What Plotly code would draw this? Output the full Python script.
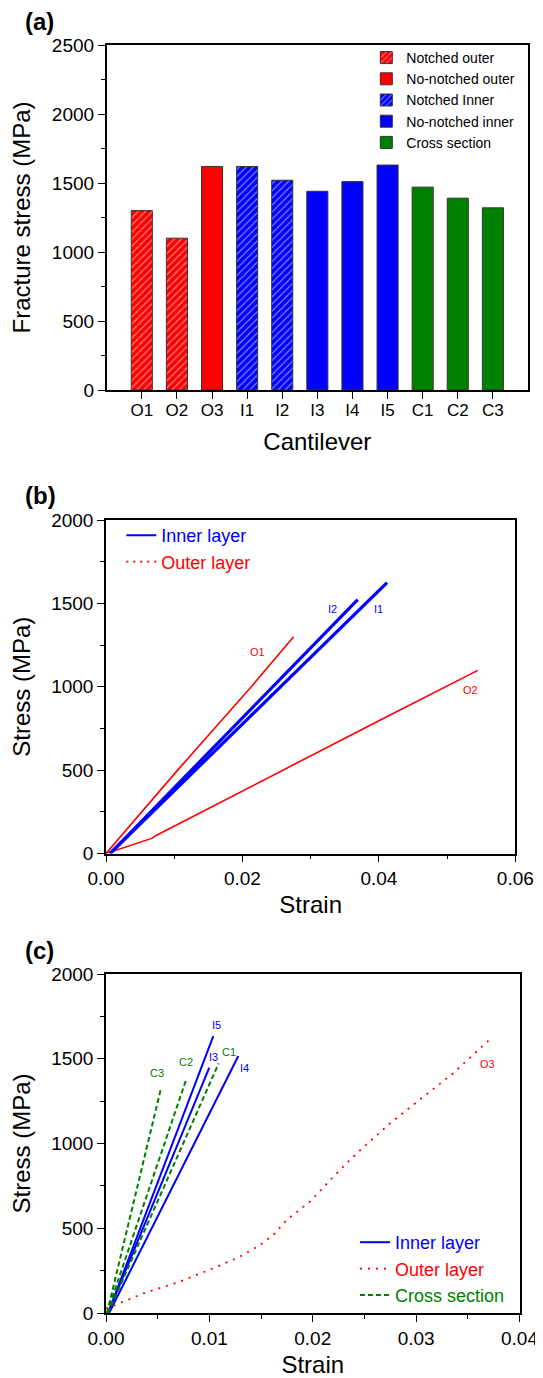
import plotly.graph_objects as go

# ---------------- Panel (a) data ----------------
categories = ["O1", "O2", "O3", "I1", "I2", "I3", "I4", "I5", "C1", "C2", "C3"]
fracture_stress = [1300, 1100, 1620, 1620, 1520, 1440, 1510, 1630, 1470, 1390, 1320]
bar_group = ["Notched outer", "Notched outer", "No-notched outer",
             "Notched Inner", "Notched Inner",
             "No-notched inner", "No-notched inner", "No-notched inner",
             "Cross section", "Cross section", "Cross section"]
group_names = ["Notched outer", "No-notched outer", "Notched Inner",
               "No-notched inner", "Cross section"]
group_colors = ["#FF0000", "#FF0000", "#0000FF", "#0000FF", "#008000"]
group_hatched = [True, False, True, False, False]

# ---------------- Panel (b) data ----------------
O1_strain = [0.0, 0.0105, 0.0213, 0.0262, 0.0275]
O1_stress = [0, 500, 1000, 1240, 1300]
O2_strain = [0.0, 0.0035, 0.0068, 0.0072, 0.0200, 0.0300, 0.0400, 0.0545]
O2_stress = [0, 45, 92, 105, 376, 586, 796, 1098]
I1_strain = [0.0006, 0.0131, 0.0256, 0.0412]
I1_stress = [0, 500, 1000, 1624]
I2_strain = [0.0006, 0.0125, 0.0244, 0.0369]
I2_stress = [0, 500, 1000, 1522]

# ---------------- Panel (c) data ----------------
I3_strain = [0.0002, 0.00999]
I3_stress = [0, 1447]
I4_strain = [0.0003, 0.0128]
I4_stress = [0, 1516]
I5_strain = [0.0002, 0.01038]
I5_stress = [0, 1634]
C1_strain = [0.0002, 0.0109]
C1_stress = [0, 1473]
C2_strain = [0.0001, 0.00771]
C2_stress = [0, 1369]
C3_strain = [0.0001, 0.00532]
C3_stress = [0, 1326]
O3_strain = [0.0, 0.00039, 0.00361, 0.00716, 0.01038, 0.01296, 0.0149, 0.01618,
             0.01748, 0.01973, 0.02199, 0.02425, 0.02747, 0.03037, 0.03357, 0.03714]
O3_stress = [28, 34, 116, 185, 264, 332, 401, 460, 549, 657, 804, 942, 1119, 1257, 1414, 1615]

FONT = "Arial, Liberation Sans, sans-serif"
# the page body adds an 8 px margin, so the figure is drawn 8 px smaller
OFF = 8
W, H = 543 - OFF, 1378 - OFF


def px_x(p):
    return (p - OFF) / W


def px_y(p):
    return 1 - (p - OFF) / H


fig = go.Figure()

# ---- (a) bars ----
for name, col, hatch in zip(group_names, group_colors, group_hatched):
    xs = [c for c, g in zip(categories, bar_group) if g == name]
    ys = [v for v, g in zip(fracture_stress, bar_group) if g == name]
    pattern = (dict(shape="/", fgcolor="white", fillmode="overlay", size=5, solidity=0.25)
               if hatch else dict(shape=""))
    fig.add_trace(go.Bar(
        x=xs, y=ys, name=name, width=0.6,
        marker=dict(color=col, line=dict(color="#333333", width=1), pattern=pattern),
        xaxis="x", yaxis="y", legend="legend",
    ))

# ---- (b) curves ----
for xs, ys in [(O1_strain, O1_stress), (O2_strain, O2_stress)]:
    fig.add_trace(go.Scatter(x=xs, y=ys, mode="lines", line=dict(color="#FF0000", width=1.6),
                             showlegend=False, xaxis="x2", yaxis="y2"))
for xs, ys in [(I1_strain, I1_stress), (I2_strain, I2_stress)]:
    fig.add_trace(go.Scatter(x=xs, y=ys, mode="lines", line=dict(color="#0000FF", width=3.2),
                             showlegend=False, xaxis="x2", yaxis="y2"))
fig.add_trace(go.Scatter(x=[None], y=[None], mode="lines", line=dict(color="#0000FF", width=2),
                         name="<span style='color:#0000FF'>Inner layer</span>",
                         xaxis="x2", yaxis="y2", legend="legend2"))
fig.add_trace(go.Scatter(x=[None], y=[None], mode="lines",
                         line=dict(color="#FF0000", width=1.6, dash="2px,5px"),
                         name="<span style='color:#FF0000'>Outer layer</span>",
                         xaxis="x2", yaxis="y2", legend="legend2"))

# ---- (c) curves ----
inner_c = [(I5_strain, I5_stress), (I3_strain, I3_stress), (I4_strain, I4_stress)]
for i, (xs, ys) in enumerate(inner_c):
    fig.add_trace(go.Scatter(x=xs, y=ys, mode="lines", line=dict(color="#0000FF", width=2),
                             name="<span style='color:#0000FF'>Inner layer</span>",
                             showlegend=(i == 0), legendrank=1,
                             xaxis="x3", yaxis="y3", legend="legend3"))
fig.add_trace(go.Scatter(x=O3_strain, y=O3_stress, mode="lines",
                         line=dict(color="#FF0000", width=1.8, dash="2px,6px"),
                         name="<span style='color:#FF0000'>Outer layer</span>", legendrank=2,
                         xaxis="x3", yaxis="y3", legend="legend3"))
cross_c = [(C1_strain, C1_stress), (C2_strain, C2_stress), (C3_strain, C3_stress)]
for i, (xs, ys) in enumerate(cross_c):
    fig.add_trace(go.Scatter(x=xs, y=ys, mode="lines",
                             line=dict(color="#008000", width=2, dash="5px,3px"),
                             name="<span style='color:#008000'>Cross section</span>",
                             showlegend=(i == 0), legendrank=3,
                             xaxis="x3", yaxis="y3", legend="legend3"))

# ---- axes ----
axis_common = dict(showline=True, linecolor="black", linewidth=1.5, mirror=True,
                   ticks="outside", ticklen=7, tickwidth=1.3, tickcolor="black",
                   showgrid=False, zeroline=False,
                   tickfont=dict(family=FONT, size=19, color="black"),
                   automargin=False)
minor_y = dict(ticks="outside", ticklen=4, tickcolor="black", dtick=250, tick0=0)
title_font = dict(family=FONT, size=24, color="black")

fig.update_layout(
    width=W, height=H,
    margin=dict(l=0, r=0, t=0, b=0),
    paper_bgcolor="white", plot_bgcolor="white",
    barmode="overlay",
    font=dict(family=FONT, color="black"),
    xaxis=dict(axis_common, domain=[px_x(106.7), px_x(528)], anchor="y",
               type="category", categoryorder="array", categoryarray=categories,
               range=[-1, 11], ticklabelstandoff=-3,
               tickfont=dict(family=FONT, size=17, color="black"),
               title=dict(text="Cantilever", font=title_font, standoff=14)),
    yaxis=dict(axis_common, domain=[px_y(390), px_y(45)], anchor="x",
               range=[0, 2500], tickvals=[0, 500, 1000, 1500, 2000, 2500],
               minor=minor_y,
               title=dict(text="Fracture stress (MPa)", font=title_font, standoff=15)),
    xaxis2=dict(axis_common, domain=[px_x(106), px_x(515.3)], anchor="y2",
                range=[0, 0.06], tickvals=[0, 0.02, 0.04, 0.06], tickformat=".2f",
                minor=dict(ticks="outside", ticklen=4, tickcolor="black", dtick=0.01, tick0=0),
                title=dict(text="Strain", font=title_font, standoff=8)),
    yaxis2=dict(axis_common, domain=[px_y(853.5), px_y(520)], anchor="x2",
                range=[0, 2000], tickvals=[0, 500, 1000, 1500, 2000],
                minor=minor_y,
                title=dict(text="Stress (MPa)", font=title_font, standoff=15)),
    xaxis3=dict(axis_common, domain=[px_x(106), px_x(519.5)], anchor="y3",
                range=[0, 0.04], tickvals=[0, 0.01, 0.02, 0.03, 0.04], tickformat=".2f",
                minor=dict(ticks="outside", ticklen=4, tickcolor="black", dtick=0.005, tick0=0),
                title=dict(text="Strain", font=title_font, standoff=11)),
    yaxis3=dict(axis_common, domain=[px_y(1313), px_y(974)], anchor="x3",
                range=[0, 2000], tickvals=[0, 500, 1000, 1500, 2000],
                minor=minor_y,
                title=dict(text="Stress (MPa)", font=title_font, standoff=15)),
    legend=dict(x=px_x(366.3), y=px_y(42), xanchor="left", yanchor="top",
                bgcolor="rgba(0,0,0,0)", borderwidth=0, tracegroupgap=0,
                font=dict(family=FONT, size=14, color="black")),
    legend2=dict(x=px_x(121.3), y=px_y(517), xanchor="left", yanchor="top",
                 bgcolor="rgba(0,0,0,0)", borderwidth=0, tracegroupgap=0,
                 font=dict(family=FONT, size=18)),
    legend3=dict(x=px_x(355), y=px_y(1224), xanchor="left", yanchor="top",
                 bgcolor="rgba(0,0,0,0)", borderwidth=0, tracegroupgap=0,
                 font=dict(family=FONT, size=18)),
)

# ---- panel labels ----
for lbl, ypx in [("(a)", 21), ("(b)", 495), ("(c)", 950)]:
    fig.add_annotation(text=f"<b>{lbl}</b>", xref="paper", yref="paper",
                       x=px_x(22.5), y=px_y(ypx), xanchor="left", yanchor="middle",
                       showarrow=False, font=dict(family=FONT, size=24, color="black"))

# ---- curve labels ----
labels_b = [("I2", 0.03323, 1467, "#0000FF"), ("I1", 0.0400, 1467, "#0000FF"),
            ("O1", 0.02219, 1208, "#FF0000"), ("O2", 0.05339, 979, "#FF0000")]
for t, x, y, c in labels_b:
    fig.add_annotation(text=t, x=x, y=y, xref="x2", yref="y2", showarrow=False,
                       font=dict(family=FONT, size=11, color=c))
labels_c = [("I5", 0.01071, 1699, "#0000FF"), ("C1", 0.01193, 1538, "#008000"),
            ("I3", 0.01038, 1513, "#0000FF"), ("C2", 0.00774, 1483, "#008000"),
            ("I4", 0.01335, 1444, "#0000FF"), ("C3", 0.00497, 1414, "#008000"),
            ("O3", 0.03693, 1467, "#FF0000")]
for t, x, y, c in labels_c:
    fig.add_annotation(text=t, x=x, y=y, xref="x3", yref="y3", showarrow=False,
                       font=dict(family=FONT, size=11, color=c))

fig.write_html("out.html")
